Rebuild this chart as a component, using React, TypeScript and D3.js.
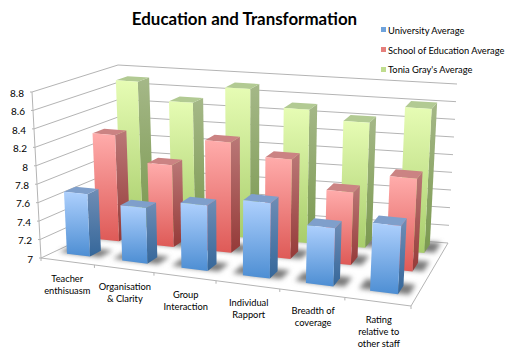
import React from "react";
import * as d3 from "d3";

const categories = [
  ["Teacher", "enthisuasm"],
  ["Organisation", "& Clarity"],
  ["Group", "Interaction"],
  ["Individual", "Rapport"],
  ["Breadth of", "coverage"],
  ["Rating", "relative to", "other staff"],
];
const seriesNames = ["University Average", "School of Education Average", "Tonia Gray's Average"];
const universityAvg = [7.68, 7.6, 7.7, 7.8, 7.61, 7.71];
const schoolAvg = [8.19, 7.91, 8.22, 8.09, 7.79, 8.0];
const toniaAvg = [8.69, 8.49, 8.69, 8.5, 8.4, 8.6];
const seriesValues = [universityAvg, schoolAvg, toniaAvg];
const valueTicks = [7, 7.2, 7.4, 7.6, 7.8, 8, 8.2, 8.4, 8.6, 8.8];
const tickLabels = ["7", "7.2", "7.4", "7.6", "7.8", "8", "8.2", "8.4", "8.6", "8.8"];
const rowStart = [0.15, 0.52, 0.82];
const rowDepth = 0.14;

type P = [number, number];
const palettes = [
  { front: ["#aed0fd", "#4d8ed3"], side: ["#6f8db5", "#35679a"], top: "#7f9fcb", swatch: "#6fa3dc" },
  { front: ["#ffacab", "#de5a57"], side: ["#ba7877", "#953a38"], top: "#cb8383", swatch: "#e57f7c" },
  { front: ["#e6fcb4", "#a8cd6b"], side: ["#a5b888", "#7a984f"], top: "#b2ca93", swatch: "#c0dd8e" },
];

function quadMap(p00: P, p10: P, p11: P, p01: P) {
  return (u: number, v: number): P => {
    const x = d3.interpolateNumber(
      d3.interpolateNumber(p00[0], p10[0])(u),
      d3.interpolateNumber(p01[0], p11[0])(u)
    )(v);
    const y = d3.interpolateNumber(
      d3.interpolateNumber(p00[1], p10[1])(u),
      d3.interpolateNumber(p01[1], p11[1])(u)
    )(v);
    return [x, y];
  };
}

const floorRaw = quadMap([41, 258], [411, 306], [448, 243], [124, 219]);
const ceilRaw = quadMap([32, 92], [420, 130], [457, 84], [118, 65]);
const uWarp = d3.scalePow().exponent(1.08).domain([0, 1]).range([0, 1]);
const floor = (u: number, v: number) => floorRaw(uWarp(u), v);
const ceil = (u: number, v: number) => ceilRaw(uWarp(u), v);

const tScale = d3.scaleLinear().domain([7, 8.8]).range([0, 1]);
const uBand = d3.scaleBand<number>().domain(d3.range(6)).range([0, 1]).paddingInner(0.57).paddingOuter(0.285);

function pt(u: number, v: number, value: number): P {
  const a = floor(u, v), b = ceil(u, v), t = tScale(value);
  return [a[0] + (b[0] - a[0]) * t, a[1] + (b[1] - a[1]) * t];
}
const line = d3.line<P>();
const poly = (pts: P[]) => line(pts) + "Z";

function Bar({ c, s, value }: { c: number; s: number; value: number }) {
  const u0 = uBand(c)!, u1 = u0 + uBand.bandwidth();
  const v0 = rowStart[s], v1 = v0 + rowDepth;
  const front = [pt(u0, v0, value), pt(u1, v0, value), pt(u1, v0, 7), pt(u0, v0, 7)];
  const side = [pt(u1, v0, value), pt(u1, v1, value), pt(u1, v1, 7), pt(u1, v0, 7)];
  const top = [pt(u0, v0, value), pt(u1, v0, value), pt(u1, v1, value), pt(u0, v1, value)];
  return (
    <g>
      <path d={poly(side)} fill={`url(#side${s})`} />
      <path d={poly(top)} fill={palettes[s].top} />
      <path d={poly(front)} fill={`url(#front${s})`} />
    </g>
  );
}

function Shadow({ c, s }: { c: number; s: number }) {
  const u0 = uBand(c)! - 0.03, u1 = uBand(c)! + uBand.bandwidth() + 0.028;
  const v0 = rowStart[s] + 0.015, v1 = rowStart[s] + rowDepth + 0.035;
  return <path d={poly([floor(u0, v0), floor(u1, v0), floor(u1, v1), floor(u0, v1)])} fill="#7c7c7c" filter="url(#blur)" />;
}

export default function App() {
  const grid = "#b4b4b4";
  return (
    <svg width={517} height={357} style={{ position: "absolute", left: 0, top: 0, background: "#fff" }} fontFamily="Lato, Carlito, sans-serif">
      <defs>
        {palettes.map((p, i) => (
          <React.Fragment key={i}>
            <linearGradient id={`front${i}`} x1="0" y1="0" x2="0" y2="1">
              <stop offset="0" stopColor={p.front[0]} />
              <stop offset="1" stopColor={p.front[1]} />
            </linearGradient>
            <linearGradient id={`side${i}`} x1="0" y1="0" x2="0" y2="1">
              <stop offset="0" stopColor={p.side[0]} />
              <stop offset="1" stopColor={p.side[1]} />
            </linearGradient>
          </React.Fragment>
        ))}
        <filter id="blur" x="-30%" y="-60%" width="160%" height="220%">
          <feGaussianBlur stdDeviation="2.4" />
        </filter>
      </defs>

      <text x={244.5} y={25} textAnchor="middle" fontSize={16.9} fontWeight={700} fill="#000">Education and Transformation</text>

      {valueTicks.map((t) => {
        const a = pt(0, 0, t), b = pt(0, 1, t), c = pt(1, 1, t);
        return <path key={t} d={line([a, b, c])!} fill="none" stroke={grid} strokeWidth={1} />;
      })}
      <path d={line([pt(0, 0, 7), pt(0, 0, 8.8)])!} stroke={grid} fill="none" />
      <path d={line([pt(0, 0, 7), pt(1, 0, 7), pt(1, 1, 7)])!} stroke={grid} fill="none" />
      {d3.range(7).map((i) => {
        const p = floor(i / 6, 0);
        return <path key={i} d={line([p, [p[0], p[1] + 3]])!} stroke={grid} />;
      })}

      {valueTicks.map((t, i) => {
        const p = pt(0, 0, t);
        return (
          <g key={t}>
            <path d={line([p, [p[0] - 2, p[1]]])!} stroke={grid} />
            <text x={p[0] - 8} y={p[1] + 4.8} textAnchor="end" fontSize={10} fill="#000">{tickLabels[i]}</text>
          </g>
        );
      })}

      {[2, 1, 0].map((s) => (
        <g key={s}>
          {categories.map((_, c) => <Shadow key={c} c={c} s={s} />)}
          {categories.map((_, c) => <Bar key={c} c={c} s={s} value={seriesValues[s][c]} />)}
        </g>
      ))}

      {categories.map((lines, c) => {
        const p = floor(uBand(c)! + uBand.bandwidth() / 2, 0);
        return (
          <text key={c} textAnchor="middle" fontSize={9.3} fill="#000">
            {lines.map((l, i) => <tspan key={i} x={p[0] + 1} y={p[1] + 21 + i * 12.2}>{l}</tspan>)}
          </text>
        );
      })}

      {seriesNames.map((n, i) => (
        <g key={n}>
          <rect x={381} y={27 + i * 20} width={5} height={5} fill={palettes[i].swatch} />
          <text x={388} y={34 + i * 19.7} fontSize={9.3} fill="#000">{n}</text>
        </g>
      ))}
    </svg>
  );
}
